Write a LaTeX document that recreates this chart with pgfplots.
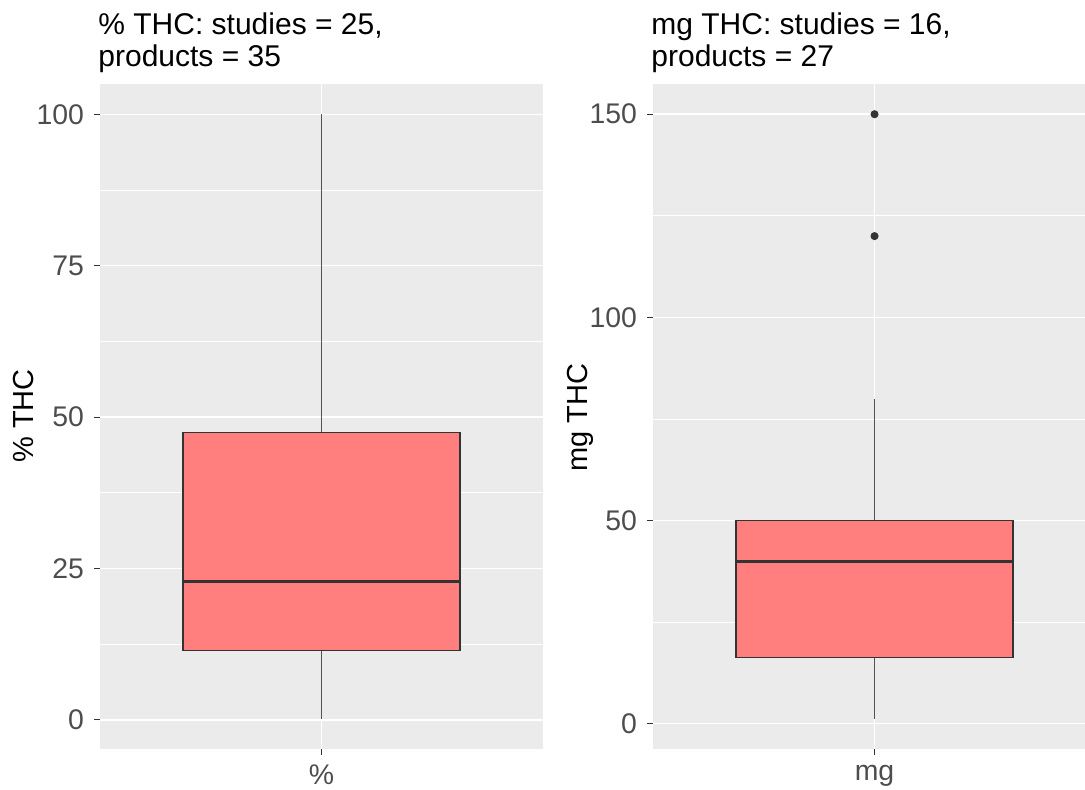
\documentclass[border=0pt]{standalone}
\usepackage{pgfplots}
\pgfplotsset{compat=1.18}
\usepackage{fontspec}
\setmainfont{Liberation Sans}
\definecolor{panelbg}{RGB}{235,235,235}
\definecolor{boxfill}{RGB}{255,127,127}
\definecolor{dark}{RGB}{51,51,51}
\definecolor{ticklab}{RGB}{77,77,77}
\begin{document}
\begin{tikzpicture}
\fontsize{14.5bp}{17bp}\selectfont
\useasboundingbox (0,0) rectangle (542.5bp,395bp);
\pgfplotsset{
  ggbox/.style={
    scale only axis,
    height=332.5bp,
    anchor=south west,
    axis background/.style={fill=panelbg},
    axis lines*=left,
    axis line style={draw=none},
    tick align=outside,
    major tick length=3bp,
    minor tick length=0pt,
    tick style={color=dark, line width=0.5bp},
    grid=both,
    major grid style={white, line width=0.75bp},
    minor grid style={white, line width=0.4bp},
    xmin=0.4,
    xtick={1},
    yticklabel style={color=ticklab, font=\fontsize{14.2bp}{17bp}\selectfont},
    xticklabel style={color=ticklab, font=\fontsize{14.2bp}{17bp}\selectfont},
    /pgf/number format/assume math mode=true,
    clip=false,
  },
  boxst/.style={draw=dark, fill=boxfill, line width=0.6bp, line join=miter},
  whisk/.style={draw=dark!85, line width=0.65bp},
  med/.style={draw=dark, line width=1.4bp},
}
\begin{axis}[ggbox,
  at={(50bp,20.5bp)},
  width=221.5bp,
  xmax=1.6,
  ymin=-4.8, ymax=105,
  ytick={0,25,50,75,100},
  minor ytick={12.5,37.5,62.5,87.5},
  xticklabels={\%},
]
% whiskers
\addplot[whisk] coordinates {(1,47.5) (1,100)};
\addplot[whisk] coordinates {(1,0.2) (1,11.5)};
% box (lower quartile 11.5, upper quartile 47.5)
\addplot[boxst] coordinates {(0.625,11.5) (1.375,11.5) (1.375,47.5) (0.625,47.5) (0.625,11.5)} -- cycle;
% median
\addplot[med] coordinates {(0.625,22.8) (1.375,22.8)};
\end{axis}
\begin{axis}[ggbox,
  at={(326.5bp,20.5bp)},
  width=216bp,
  xmax=1.570,
  ymin=-6.24, ymax=157.44,
  ytick={0,50,100,150},
  minor ytick={25,75,125},
  xticklabels={mg},
]
\addplot[whisk] coordinates {(1,50) (1,80)};
\addplot[whisk] coordinates {(1,1.2) (1,16.3)};
\addplot[boxst] coordinates {(0.625,16.3) (1.375,16.3) (1.375,50) (0.625,50) (0.625,16.3)} -- cycle;
\addplot[med] coordinates {(0.625,40) (1.375,40)};
% outliers
\addplot[only marks, mark=*, mark size=1.8bp, mark options={fill=dark, draw=dark}]
  coordinates {(1,150) (1,120)};
\end{axis}
\begin{scope}[every node/.style={inner sep=0pt, font=\fontsize{15bp}{17bp}\selectfont}]
\node[anchor=base west] at (49bp,377.5bp) {\% THC: studies = 25,};
\node[anchor=base west] at (49bp,361.5bp) {products = 35};
\node[anchor=base west] at (325.5bp,377.5bp) {mg THC: studies = 16,};
\node[anchor=base west] at (325.5bp,361.5bp) {products = 27};
\end{scope}
\node[rotate=90] at (12bp,187bp) {\% THC};
\node[rotate=90] at (290bp,186bp) {mg THC};
\end{tikzpicture}
\end{document}
